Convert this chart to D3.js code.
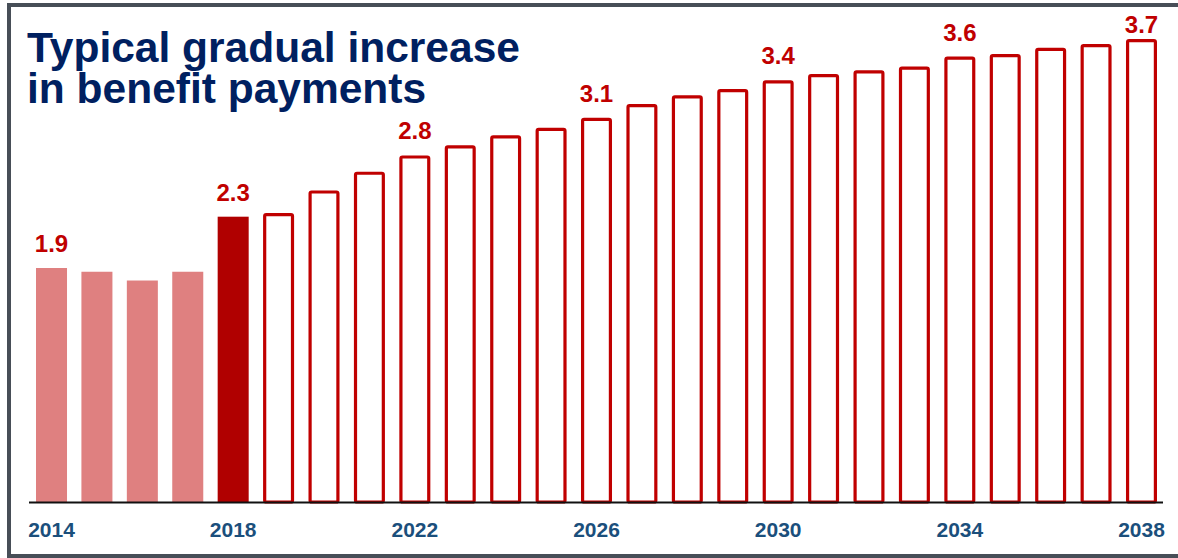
<!DOCTYPE html>
<html>
<head>
<meta charset="utf-8">
<script src="https://cdn.jsdelivr.net/npm/d3@7"></script>
<style>
  html, body { margin: 0; padding: 0; background: #ffffff; }
  svg { display: block; }
</style>
</head>
<body>
<script>
const years = [2014,2015,2016,2017,2018,2019,2020,2021,2022,2023,2024,2025,2026,2027,2028,2029,2030,2031,2032,2033,2034,2035,2036,2037,2038];
const values = [1.87,1.84,1.77,1.84,2.28,2.31,2.49,2.64,2.77,2.85,2.93,2.99,3.07,3.18,3.25,3.30,3.37,3.42,3.45,3.48,3.56,3.58,3.63,3.66,3.70];
// bar kind: historical, current, projected
const kinds = ["hist","hist","hist","hist","current","proj","proj","proj","proj","proj","proj","proj","proj","proj","proj","proj","proj","proj","proj","proj","proj","proj","proj","proj","proj"];
const labelledYears = [2014,2018,2022,2026,2030,2034,2038];
const tickYears = [2014,2018,2022,2026,2030,2034,2038];
const titleLines = ["Typical gradual increase","in benefit payments"];

const W = 1178, H = 558;
const svg = d3.select("body").append("svg").attr("width", W).attr("height", H);

// frame
svg.append("rect")
  .attr("x", 9).attr("y", 5).attr("width", 1240).attr("height", 551)
  .attr("fill", "none").attr("stroke", "#474e57").attr("stroke-width", 4);

const baseY = 502;
const x = d3.scaleBand().domain(years).range([36, 1157]).paddingInner(0.317).paddingOuter(0);
const y = d3.scaleLinear().domain([0, 3.7]).range([baseY, 39]);

const data = years.map((yr, i) => ({year: yr, value: values[i], kind: kinds[i]}));

const g = svg.append("g");
// filled bars
g.selectAll("rect.fill").data(data.filter(d => d.kind !== "proj")).join("rect")
  .attr("class", "fill")
  .attr("x", d => x(d.year))
  .attr("y", d => y(d.value))
  .attr("width", x.bandwidth())
  .attr("height", d => baseY - y(d.value))
  .attr("fill", d => d.kind === "hist" ? "#df8080" : "#b00000");

// outlined projected bars
const sw = 3.2;
g.selectAll("rect.proj").data(data.filter(d => d.kind === "proj")).join("rect")
  .attr("class", "proj")
  .attr("x", d => x(d.year) + sw/2)
  .attr("y", d => y(d.value) + sw/2)
  .attr("width", x.bandwidth() - sw)
  .attr("height", d => baseY - y(d.value) - sw/2)
  .attr("rx", 1.5)
  .attr("fill", "#ffffff")
  .attr("stroke", "#c00000")
  .attr("stroke-width", sw);

// baseline
svg.append("line")
  .attr("x1", 29).attr("x2", 1163)
  .attr("y1", baseY + 0.5).attr("y2", baseY + 0.5)
  .attr("stroke", "#111111").attr("stroke-width", 2);

// x axis labels
const axis = d3.axisBottom(x).tickValues(tickYears).tickSize(0).tickPadding(0).tickFormat(d3.format("d"));
const ax = svg.append("g").attr("transform", `translate(0,${baseY})`).call(axis);
ax.select(".domain").remove();
ax.selectAll("text")
  .attr("dy", null).attr("y", 35)
  .attr("font-family", "Liberation Sans, Arial, sans-serif")
  .attr("font-weight", "bold").attr("font-size", 21)
  .attr("fill", "#1b4f7c");

// value labels
svg.append("g").selectAll("text").data(data.filter(d => labelledYears.includes(d.year))).join("text")
  .attr("x", d => x(d.year) + x.bandwidth()/2)
  .attr("y", d => Math.max(y(d.value) - 16, 33))
  .attr("text-anchor", "middle")
  .attr("font-family", "Liberation Sans, Arial, sans-serif")
  .attr("font-weight", "bold").attr("font-size", 24)
  .attr("fill", "#c00000")
  .text(d => d3.format(".1f")(d.value));

// title
svg.append("g").selectAll("text").data(titleLines).join("text")
  .attr("x", 27)
  .attr("y", (d, i) => 62 + i * 41)
  .attr("font-family", "Liberation Sans, Arial, sans-serif")
  .attr("font-weight", "bold").attr("font-size", 42.5)
  .attr("fill", "#002060")
  .text(d => d);
</script>
</body>
</html>
